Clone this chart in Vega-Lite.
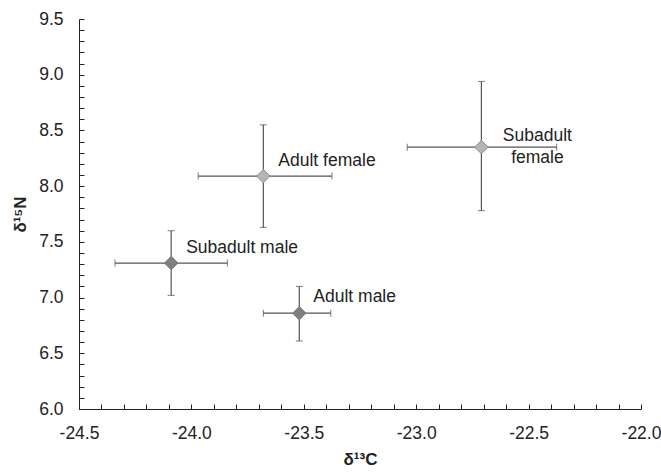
{
  "$schema": "https://vega.github.io/schema/vega-lite/v6.json",
  "autosize": {"type": "none"},
  "padding": {"left": 79, "top": 19, "right": 20, "bottom": 65},
  "width": 562,
  "height": 390,
  "background": "white",
  "config": {
    "view": {"stroke": null},
    "font": "Liberation Sans",
    "axis": {
      "domainColor": "#222222",
      "domainWidth": 1,
      "tickColor": "#222222",
      "tickWidth": 1,
      "grid": false,
      "tickCount": 200,
      "labelFont": "Liberation Sans",
      "labelFontSize": 17.5,
      "labelColor": "#222222",
      "titleFont": "Liberation Sans",
      "titleFontSize": 17,
      "titleFontWeight": "bold",
      "titleColor": "#222222",
      "labelOverlap": false,
      "labelFlush": false,
      "labelExpr": "abs(datum.value*2 - round(datum.value*2)) < 0.001 ? replace(format(datum.value, '.1f'), '\u2212', '-') : ''"
    }
  },
  "data": {
    "values": [
      {"group": "Subadult male", "sex": "male", "d13C": -24.09, "d15N": 7.31, "cLo": -24.34, "cHi": -23.84, "nLo": 7.02, "nHi": 7.60},
      {"group": "Adult male", "sex": "male", "d13C": -23.52, "d15N": 6.86, "cLo": -23.68, "cHi": -23.38, "nLo": 6.61, "nHi": 7.10},
      {"group": "Adult female", "sex": "female", "d13C": -23.68, "d15N": 8.09, "cLo": -23.97, "cHi": -23.375, "nLo": 7.63, "nHi": 8.55},
      {"group": "Subadult female", "sex": "female", "d13C": -22.71, "d15N": 8.35, "cLo": -23.04, "cHi": -22.375, "nLo": 7.78, "nHi": 8.94}
    ]
  },
  "layer": [
    {
      "mark": {"type": "errorbar", "ticks": {"size": 7, "thickness": 1, "color": "#444444"}, "rule": {"strokeWidth": 1.2, "color": "#555555"}},
      "encoding": {
        "x": {"field": "cLo", "type": "quantitative",
          "scale": {"domain": [-24.5, -22.0], "nice": false, "zero": false},
          "axis": {
            "title": "δ¹³C",
            "tickCount": 200,
            "values": [-24.5,-24.4,-24.3,-24.2,-24.1,-24.0,-23.9,-23.8,-23.7,-23.6,-23.5,-23.4,-23.3,-23.2,-23.1,-23.0,-22.9,-22.8,-22.7,-22.6,-22.5,-22.4,-22.3,-22.2,-22.1,-22.0],
            "tickSize": -5,
            "labelPadding": 20,
            "titlePadding": 10
          }
        },
        "x2": {"field": "cHi"},
        "y": {"field": "d15N", "type": "quantitative",
          "scale": {"domain": [6.0, 9.5], "nice": false, "zero": false},
          "axis": {
            "title": "δ¹⁵N",
            "tickCount": 200,
            "values": [6.0,6.1,6.2,6.3,6.4,6.5,6.6,6.7,6.8,6.9,7.0,7.1,7.2,7.3,7.4,7.5,7.6,7.7,7.8,7.9,8.0,8.1,8.2,8.3,8.4,8.5,8.6,8.7,8.8,8.9,9.0,9.1,9.2,9.3,9.4,9.5],
            "tickSize": -5,
            "labelPadding": 21,
            "titlePadding": 9
          }
        }
      }
    },
    {
      "mark": {"type": "errorbar", "ticks": {"size": 7, "thickness": 1, "color": "#444444"}, "rule": {"strokeWidth": 1.2, "color": "#555555"}},
      "encoding": {
        "x": {"field": "d13C", "type": "quantitative", "title": "δ¹³C", "axis": {
            "tickCount": 200,
            "values": [-24.5,-24.4,-24.3,-24.2,-24.1,-24.0,-23.9,-23.8,-23.7,-23.6,-23.5,-23.4,-23.3,-23.2,-23.1,-23.0,-22.9,-22.8,-22.7,-22.6,-22.5,-22.4,-22.3,-22.2,-22.1,-22.0],
            "tickSize": -5,
            "labelPadding": 20,
            "titlePadding": 10}},
        "y": {"field": "nLo", "type": "quantitative", "title": "δ¹⁵N", "axis": {
            "tickCount": 200,
            "values": [6.0,6.1,6.2,6.3,6.4,6.5,6.6,6.7,6.8,6.9,7.0,7.1,7.2,7.3,7.4,7.5,7.6,7.7,7.8,7.9,8.0,8.1,8.2,8.3,8.4,8.5,8.6,8.7,8.8,8.9,9.0,9.1,9.2,9.3,9.4,9.5],
            "tickSize": -5,
            "labelPadding": 21,
            "titlePadding": 9}},
        "y2": {"field": "nHi"}
      }
    },
    {
      "mark": {"type": "point", "shape": "diamond", "size": 180, "filled": true, "opacity": 1, "strokeWidth": 1},
      "encoding": {
        "x": {"field": "d13C", "type": "quantitative", "title": "δ¹³C"},
        "y": {"field": "d15N", "type": "quantitative", "title": "δ¹⁵N"},
        "fill": {"field": "sex", "type": "nominal", "scale": {"domain": ["male", "female"], "range": ["#7f7f7f", "#b4b4b4"]}, "legend": null},
        "stroke": {"field": "sex", "type": "nominal", "scale": {"domain": ["male", "female"], "range": ["#777777", "#8a8a8a"]}, "legend": null}
      }
    },
    {
      "transform": [{"filter": "datum.group == 'Subadult male' || datum.group == 'Adult female'"}],
      "mark": {"type": "text", "align": "left", "baseline": "middle", "dx": 15, "dy": -15, "fontSize": 17.5, "color": "#222222", "font": "Liberation Sans"},
      "encoding": {
        "x": {"field": "d13C", "type": "quantitative", "title": "δ¹³C"},
        "y": {"field": "d15N", "type": "quantitative", "title": "δ¹⁵N"},
        "text": {"field": "group"}
      }
    },
    {
      "transform": [{"filter": "datum.group == 'Adult male'"}],
      "mark": {"type": "text", "align": "left", "baseline": "middle", "dx": 14, "dy": -16, "fontSize": 17.5, "color": "#222222", "font": "Liberation Sans"},
      "encoding": {
        "x": {"field": "d13C", "type": "quantitative", "title": "δ¹³C"},
        "y": {"field": "d15N", "type": "quantitative", "title": "δ¹⁵N"},
        "text": {"field": "group"}
      }
    },
    {
      "transform": [{"filter": "datum.group == 'Subadult female'"}],
      "mark": {"type": "text", "align": "center", "baseline": "middle", "dx": 56, "dy": -11, "fontSize": 17.5, "lineHeight": 22, "lineBreak": " ", "color": "#222222", "font": "Liberation Sans"},
      "encoding": {
        "x": {"field": "d13C", "type": "quantitative", "title": "δ¹³C"},
        "y": {"field": "d15N", "type": "quantitative", "title": "δ¹⁵N"},
        "text": {"field": "group"}
      }
    }
  ]
}
